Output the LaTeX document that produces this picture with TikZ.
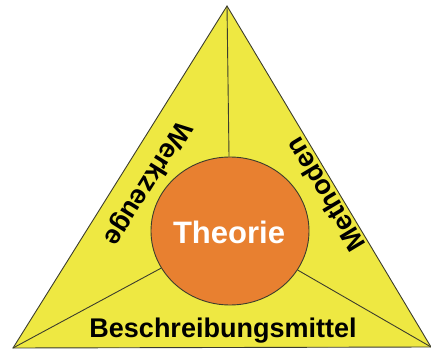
\documentclass[tikz,border=0pt]{standalone}
\usepackage{fontspec}
\setmainfont{Liberation Sans}
\usetikzlibrary{shapes.geometric}
\definecolor{triyellow}{RGB}{238,232,66}
\definecolor{theoorange}{RGB}{232,128,48}
\definecolor{edgegray}{RGB}{60,60,45}
\begin{document}
\begin{tikzpicture}[x=1pt,y=-1pt,
  edge/.style={draw=edgegray,line width=0.9pt},
  sidelabel/.style={font=\fontsize{27}{30}\selectfont\bfseries,text=black,inner sep=0pt},
  theobox/.style={ellipse,draw=edgegray,line width=0.9pt,fill=theoorange,minimum width=158pt,minimum height=148pt,inner sep=0pt}]
\useasboundingbox (0,0) rectangle (431,353);
\coordinate (A) at (227,6);
\coordinate (B) at (13,348);
\coordinate (C) at (431,347);
\fill[triyellow] (A) -- (B) -- (C) -- cycle;
\node[theobox,draw=none,fill=none] (theo) at (230,231) {};
\draw[edge] (A) -- (theo);
\draw[edge] (B) -- (theo);
\draw[edge] (C) -- (theo);
\draw[edge,line join=miter] (A) -- (B) -- (C) -- cycle;
\node[theobox] (theofill) at (230,231) {};
\node[font=\fontsize{31}{34}\selectfont\bfseries,text=white] (t) at (229,232) {Theorie};
\node[sidelabel,anchor=base] (b) at (223,337) {Beschreibungsmittel};
\node[sidelabel,rotate=238] (w) at (147,183) {Werkzeuge};
\node[sidelabel,rotate=121] (m) at (325,195) {Methoden};
\end{tikzpicture}
\end{document}
